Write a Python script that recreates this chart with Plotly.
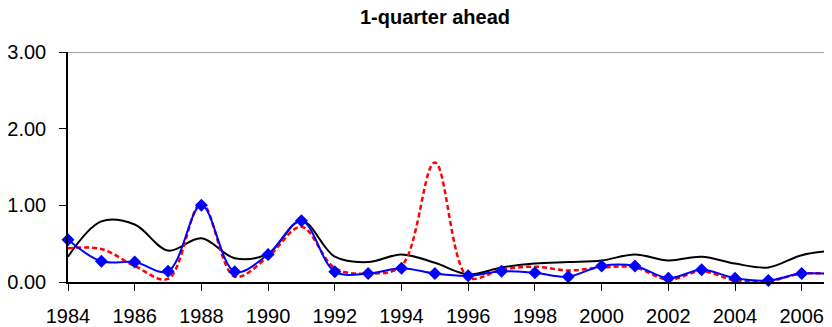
import plotly.graph_objects as go

years = list(range(1984, 2008))

blue_vals = [0.55, 0.27, 0.26, 0.14, 1.00, 0.135, 0.36, 0.80, 0.135, 0.11, 0.18, 0.11,
             0.08, 0.14, 0.12, 0.07, 0.21, 0.21, 0.05, 0.16, 0.05, 0.02, 0.11, 0.10]

red_vals = [0.44, 0.43, 0.21, 0.04, 1.03, 0.07, 0.33, 0.72, 0.18, 0.11, 0.21, 1.56,
            0.06, 0.16, 0.20, 0.15, 0.19, 0.19, 0.03, 0.14, 0.02, 0.01, 0.11, 0.10]

black_vals = [0.33, 0.79, 0.75, 0.41, 0.57, 0.31, 0.37, 0.80, 0.33, 0.26, 0.36, 0.25,
              0.10, 0.19, 0.24, 0.26, 0.28, 0.36, 0.28, 0.33, 0.24, 0.19, 0.35, 0.41]

x_ticks = list(range(1984, 2008, 2))
y_ticks = [0, 1, 2, 3]
y_labels = ["0.00", "1.00", "2.00", "3.00"]

FONT = "Liberation Sans, Arial, sans-serif"

# the page body adds an 8px offset; figure coordinates below compensate for it
OFF = 8
W, H = 832, 327
L = 68 - OFF
T = 52 - OFF
B = H - (282 - OFF)
px_per_year = 33.35
x_end = 1984 + (W - L) / px_per_year

fig = go.Figure()
fig.add_trace(go.Scatter(x=years, y=black_vals, mode="lines",
                         line=dict(color="#000000", width=2, shape="spline", smoothing=1.0),
                         showlegend=False))
fig.add_trace(go.Scatter(x=years, y=red_vals, mode="lines",
                         line=dict(color="#FF0000", width=2.5, shape="spline", smoothing=1.0,
                                   dash="5px,3px"),
                         showlegend=False))
fig.add_trace(go.Scatter(x=years, y=blue_vals, mode="lines+markers",
                         line=dict(color="#0000FF", width=2, shape="spline", smoothing=1.0),
                         marker=dict(symbol="diamond", size=10, color="#0000FF"),
                         showlegend=False, cliponaxis=False))

fig.update_layout(
    width=W, height=H,
    margin=dict(l=L, r=0, t=T, b=B, autoexpand=False),
    paper_bgcolor="white", plot_bgcolor="white",
    font=dict(family=FONT, size=20, color="black"),
    title=dict(text="<b>1-quarter ahead</b>", x=(435 - OFF) / W, xref="container", xanchor="center",
               y=1 - (16.5 - OFF) / H, yref="container", yanchor="middle",
               font=dict(family=FONT, size=20, color="black")),
    xaxis=dict(range=[1984, x_end], tickvals=x_ticks, ticktext=[str(t) for t in x_ticks],
               showgrid=False, zeroline=False, showline=True, linecolor="black", linewidth=1.5,
               ticks="outside", ticklen=7, tickwidth=1, tickcolor="black", automargin=False,
               ticklabelstandoff=8,
               tickfont=dict(family=FONT, size=20, color="black")),
    yaxis=dict(range=[0, 3], tickvals=y_ticks, ticktext=y_labels,
               showgrid=False, zeroline=False, showline=True, linecolor="black", linewidth=1.5,
               ticks="outside", ticklen=7, tickwidth=1, tickcolor="black", automargin=False,
               ticklabelstandoff=9,
               tickfont=dict(family=FONT, size=20, color="black")),
    shapes=[dict(type="line", xref="paper", yref="y", x0=0, x1=1, y0=3, y1=3,
                 line=dict(color="#808080", width=1.5))],
)

fig.write_html("out.html")
